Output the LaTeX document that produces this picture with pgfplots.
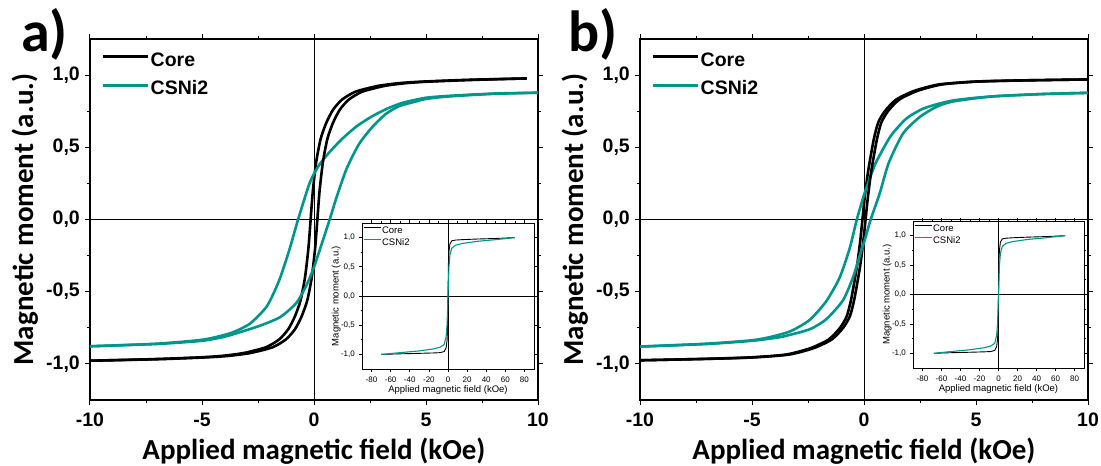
\documentclass[border=0pt]{standalone}
\usepackage{fontspec}
\setmainfont{Liberation Sans}
\newfontfamily\calibri{Carlito}
\usepackage{pgfplots}
\pgfplotsset{compat=1.18}
\definecolor{tealc}{RGB}{0,150,140}

\pgfplotsset{
  mainax/.style={
    scale only axis, width=448pt, height=361pt,
    xmin=-10, xmax=10, ymin=-1.25, ymax=1.25,
    xtick={-10,-5,0,5,10}, minor x tick num=1,
    ytick={-1,-0.5,0,0.5,1}, minor y tick num=1,
    tick align=outside, major tick length=5pt, minor tick length=3pt,
    axis line style={line width=1.2pt},
    every tick/.style={black, line width=1pt},
    /pgf/number format/assume math mode=true,
    ticklabel style={font=\fontsize{19.5pt}{21pt}\selectfont\bfseries},
    yticklabel={\pgfmathprintnumber[fixed,fixed zerofill,precision=1,use comma]{\tick}},
    xticklabel style={anchor=north, inner sep=0pt, yshift=-8pt},
    yticklabel style={anchor=east, inner sep=0pt, xshift=-5pt},
    xlabel={Applied magnetic field (kOe)},
    ylabel={Magnetic moment (a.u.)},
    label style={font=\calibri\bfseries\fontsize{29pt}{30pt}\selectfont},
    xlabel style={at={(axis description cs:0.5,0)}, anchor=base, yshift=-59pt},
    ylabel style={at={(axis description cs:-0.1272,0.5)}, anchor=base},
    legend style={draw=none, fill=none, at={(axis description cs:0,1)}, anchor=north west,
      xshift=10pt, yshift=-11pt, font=\fontsize{19.5pt}{21pt}\selectfont\bfseries,
      row sep=10pt, inner sep=1pt, nodes={inner sep=1.5pt}},
    legend cell align=left,
    legend image code/.code={\draw[#1, line width=3pt] (0pt,0.35em) -- (45pt,0.35em);},
  },
  insax/.style={
    scale only axis, width=172pt, height=146pt,
    xmin=-90, xmax=90, ymin=-1.25, ymax=1.25,
    xtick={-80,-60,...,80}, minor x tick num=1,
    ytick={-1,-0.5,0,0.5,1}, minor y tick num=1,
    tick align=outside, major tick length=3pt, minor tick length=1.5pt,
    axis line style={line width=0.8pt},
    every tick/.style={black, line width=0.6pt},
    axis background/.style={fill=white},
    /pgf/number format/assume math mode=true,
    ticklabel style={font=\fontsize{8pt}{9pt}\selectfont},
    yticklabel={\pgfmathprintnumber[fixed,fixed zerofill,precision=1,use comma]{\tick}},
    xticklabel style={anchor=north, inner sep=0pt, yshift=-5pt},
    yticklabel style={anchor=east, inner sep=0pt, xshift=-4pt},
    xlabel={Applied magnetic field (kOe)},
    ylabel={Magnetic moment (a.u.)},
    label style={font=\fontsize{9.5pt}{10pt}\selectfont},
    xlabel style={at={(axis description cs:0.5,0)}, anchor=base, yshift=-24pt},
    ylabel style={at={(axis description cs:-0.1366,0.5)}, anchor=base},
    legend style={draw=none, fill=none, at={(axis description cs:0,1)}, anchor=north west,
      xshift=1pt, yshift=-3pt, font=\fontsize{9.5pt}{10pt}\selectfont,
      row sep=1pt, inner sep=0pt, nodes={inner sep=1pt}},
    legend cell align=left,
    legend image code/.code={\draw[#1, line width=0.9pt] (0pt,0.35em) -- (17pt,0.35em);},
  },
}

\begin{document}
\begin{tikzpicture}
\path[use as bounding box] (0,0) rectangle (1101pt,466pt);

% ---------------- panel a ----------------
\begin{axis}[mainax, at={(90pt,66pt)}, anchor=south west]
\addplot[black, line width=1pt, forget plot] coordinates {(0,-1.25) (0,1.25)};
\addplot[black, line width=1pt, forget plot] coordinates {(-10,0) (10,0)};
\addplot[black, line width=2.6pt, line join=round, smooth, tension=0.4] coordinates {
(9.5,0.977) (6.85,0.967) (4.85,0.955) (3.85,0.945) (2.85,0.925) (1.85,0.885) (1.25,0.83) (0.85,0.76) (0.55,0.67) (0.30,0.56) (0.10,0.40) (-0.05,0.20) (-0.15,0) (-0.25,-0.20) (-0.40,-0.40) (-0.60,-0.56) (-0.85,-0.67) (-1.15,-0.76) (-1.55,-0.83) (-2.15,-0.885) (-3.15,-0.925) (-4.15,-0.945) (-5.15,-0.955) (-7.15,-0.967) (-10,-0.978)};
\addlegendentry{Core}
\addplot[tealc, line width=2.6pt, line join=round, smooth, tension=0.4] coordinates {
(10,0.878) (8,0.872) (6,0.856) (5,0.843) (4,0.81) (3.3,0.77) (2.6,0.715) (1.9,0.645) (1.2,0.55) (0.6,0.45) (0.2,0.37) (-0.2,0.25) (-0.71,0) (-1.1,-0.21) (-1.55,-0.42) (-2.1,-0.6) (-2.85,-0.72) (-3.6,-0.78) (-4.4,-0.815) (-5.1,-0.835) (-7,-0.86) (-10,-0.878)};
\addlegendentry{CSNi2}
\addplot[black, line width=2.6pt, line join=round, smooth, tension=0.4, forget plot] coordinates {
(-10,-0.978) (-6.85,-0.967) (-4.85,-0.955) (-3.85,-0.945) (-2.85,-0.925) (-1.85,-0.885) (-1.25,-0.83) (-0.85,-0.76) (-0.55,-0.67) (-0.30,-0.56) (-0.10,-0.40) (0.05,-0.20) (0.15,0) (0.25,0.20) (0.40,0.40) (0.60,0.56) (0.85,0.67) (1.15,0.76) (1.55,0.83) (2.15,0.885) (3.15,0.925) (4.15,0.945) (5.15,0.955) (7.15,0.967) (9.5,0.977)};
\addplot[tealc, line width=2.6pt, line join=round, smooth, tension=0.4, forget plot] coordinates {
(-10,-0.878) (-7,-0.862) (-5,-0.84) (-4,-0.812) (-3.3,-0.78) (-2.4,-0.735) (-1.5,-0.675) (-0.8,-0.58) (-0.35,-0.46) (0,-0.33) (0.3,-0.19) (0.7,0) (1.0,0.15) (1.45,0.35) (2.0,0.52) (2.6,0.64) (3.2,0.73) (3.8,0.785) (4.5,0.815) (5,0.835) (6,0.852) (8,0.87) (10,0.878)};
\end{axis}

\begin{axis}[insax, at={(362pt,97pt)}, anchor=south west]
\addplot[black, line width=0.6pt, forget plot] coordinates {(0,-1.25) (0,1.25)};
\addplot[black, line width=0.6pt, forget plot] coordinates {(-90,0) (90,0)};
\addplot[black, line width=0.9pt] coordinates {
(-70,-1.0) (-50,-0.99) (-30,-0.982) (-15,-0.975) (-8,-0.97) (-4,-0.95) (-2,-0.89) (-1,-0.76) (-0.5,-0.6) (0,0) (0.5,0.6) (1,0.76) (2,0.89) (4,0.945) (8,0.958) (15,0.965) (30,0.975) (50,0.985) (70,1.0)};
\addlegendentry{Core}
\addplot[tealc, line width=1.1pt] coordinates {
(-70,-1.0) (-50,-0.97) (-30,-0.94) (-15,-0.905) (-8,-0.875) (-4,-0.83) (-2,-0.7) (-1,-0.5) (0,0) (1,0.5) (2,0.7) (4,0.82) (8,0.87) (15,0.9) (30,0.935) (50,0.965) (70,1.0)};
\addlegendentry{CSNi2}
\end{axis}

\node[anchor=base west, inner sep=0pt, font=\calibri\bfseries\fontsize{58pt}{60pt}\selectfont] at (21pt,414pt) {a)};

% ---------------- panel b ----------------
\begin{axis}[mainax, at={(640pt,66pt)}, anchor=south west]
\addplot[black, line width=1pt, forget plot] coordinates {(0,-1.25) (0,1.25)};
\addplot[black, line width=1pt, forget plot] coordinates {(-10,0) (10,0)};
\addplot[black, line width=2.6pt, line join=round, smooth, tension=0.4] coordinates {
(10,0.97) (6.93,0.963) (4.93,0.955) (3.33,0.935) (2.23,0.89) (1.43,0.83) (0.93,0.75) (0.63,0.67) (0.43,0.55) (0.18,0.33) (0.03,0.15) (-0.07,0) (-0.17,-0.15) (-0.32,-0.33) (-0.57,-0.55) (-0.77,-0.67) (-1.07,-0.75) (-1.57,-0.83) (-2.37,-0.89) (-3.47,-0.935) (-5.07,-0.955) (-7.07,-0.965) (-10,-0.975)};
\addlegendentry{Core}
\addplot[tealc, line width=2.6pt, line join=round, smooth, tension=0.4] coordinates {
(10,0.877) (8,0.869) (6,0.855) (5,0.843) (4,0.825) (3.3,0.80) (2.6,0.765) (1.9,0.70) (1.2,0.58) (0.55,0.40) (0.2,0.26) (0,0.17) (-0.32,0) (-0.64,-0.2) (-1.08,-0.4) (-1.68,-0.565) (-2.42,-0.695) (-3.3,-0.775) (-4.3,-0.818) (-5.1,-0.838) (-7,-0.86) (-10,-0.88)};
\addlegendentry{CSNi2}
\addplot[black, line width=2.6pt, line join=round, smooth, tension=0.4, forget plot] coordinates {
(-10,-0.975) (-6.93,-0.965) (-4.93,-0.955) (-3.33,-0.935) (-2.23,-0.89) (-1.43,-0.83) (-0.93,-0.75) (-0.63,-0.67) (-0.43,-0.55) (-0.18,-0.33) (-0.03,-0.15) (0.07,0) (0.17,0.15) (0.32,0.33) (0.57,0.55) (0.77,0.67) (1.07,0.75) (1.57,0.83) (2.37,0.89) (3.47,0.935) (5.07,0.955) (7.07,0.963) (10,0.97)};
\addplot[tealc, line width=2.6pt, line join=round, smooth, tension=0.4, forget plot] coordinates {
(-10,-0.88) (-7,-0.862) (-5,-0.84) (-4.2,-0.825) (-3.6,-0.81) (-2.42,-0.76) (-1.68,-0.69) (-0.94,-0.56) (-0.49,-0.40) (-0.12,-0.215) (0,-0.16) (0.3,0) (0.7,0.18) (1.1,0.39) (1.74,0.595) (2.49,0.71) (3.23,0.78) (3.9,0.815) (5,0.84) (6,0.855) (8,0.869) (10,0.877)};
\end{axis}

\begin{axis}[insax, width=171pt, height=147pt, at={(913pt,98pt)}, anchor=south west]
\addplot[black, line width=0.6pt, forget plot] coordinates {(0,-1.25) (0,1.25)};
\addplot[black, line width=0.6pt, forget plot] coordinates {(-90,0) (90,0)};
\addplot[black, line width=0.9pt] coordinates {
(-68,-1.0) (-50,-0.99) (-30,-0.982) (-15,-0.975) (-8,-0.97) (-4,-0.95) (-2,-0.89) (-1,-0.76) (-0.5,-0.6) (0,0) (0.5,0.6) (1,0.76) (2,0.89) (4,0.945) (8,0.958) (15,0.965) (30,0.975) (50,0.985) (70,1.0)};
\addlegendentry{Core}
\addplot[tealc, line width=1.1pt] coordinates {
(-68,-1.0) (-50,-0.97) (-30,-0.94) (-15,-0.905) (-8,-0.875) (-4,-0.83) (-2,-0.7) (-1,-0.5) (0,0) (1,0.5) (2,0.7) (4,0.82) (8,0.87) (15,0.9) (30,0.935) (50,0.965) (70,1.0)};
\addlegendentry{CSNi2}
\end{axis}

\node[anchor=base west, inner sep=0pt, font=\calibri\bfseries\fontsize{58pt}{60pt}\selectfont] at (568pt,414pt) {b)};
\end{tikzpicture}
\end{document}
